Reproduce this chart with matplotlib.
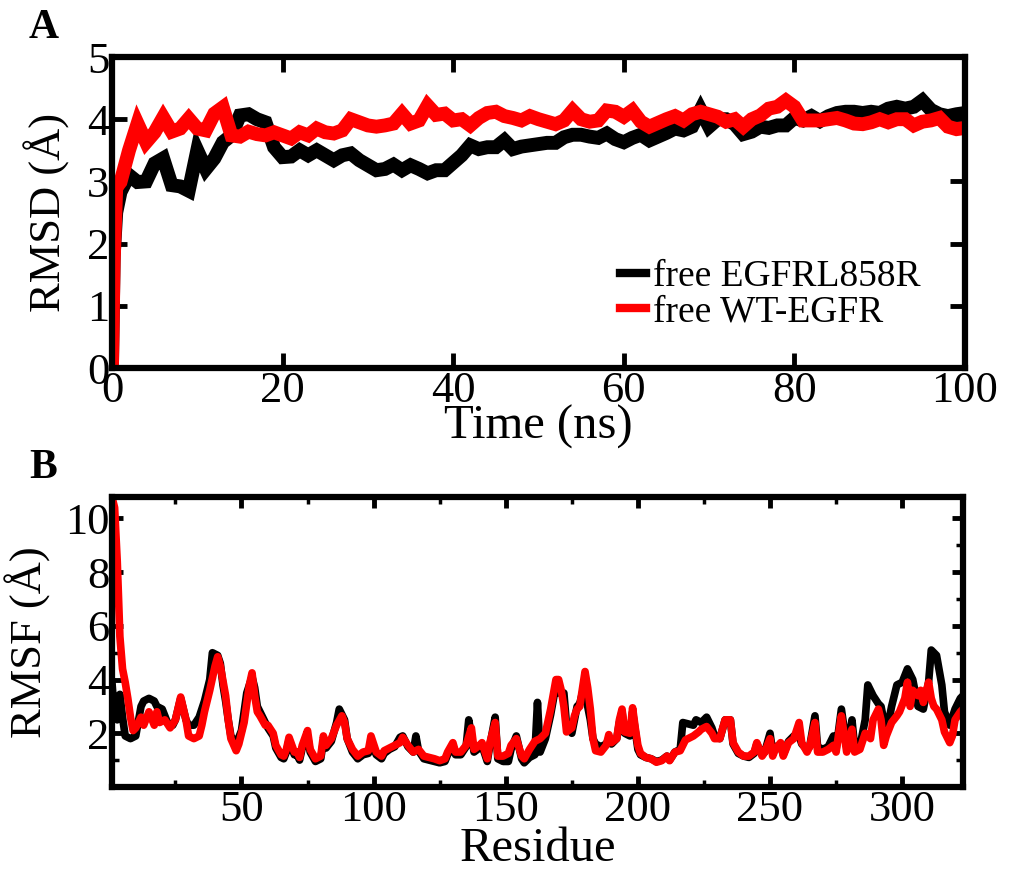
import matplotlib
matplotlib.use("Agg")
import matplotlib.pyplot as plt
from matplotlib.ticker import MultipleLocator

plt.rcParams["font.family"] = ["Liberation Serif", "DejaVu Serif"]

# ---------------- RMSD time series (ns, Angstrom) ----------------
time_ns = [0, 0.2, 0.5] + list(range(1, 101))

rmsd_l858r = [0.0, 1.8, 2.5,
    2.83, 3.10, 2.99, 3.00, 3.29, 3.37, 2.94, 2.92, 2.85, 3.50,
    3.20, 3.37, 3.63, 3.74, 4.06, 4.08, 4.00, 3.95, 3.55, 3.39,
    3.40, 3.50, 3.42, 3.50, 3.42, 3.34, 3.42, 3.45, 3.34, 3.26,
    3.18, 3.20, 3.27, 3.18, 3.26, 3.20, 3.13, 3.18, 3.18, 3.30,
    3.42, 3.58, 3.52, 3.55, 3.55, 3.66, 3.52, 3.56, 3.58, 3.60,
    3.62, 3.62, 3.71, 3.75, 3.75, 3.72, 3.70, 3.77, 3.68, 3.63,
    3.70, 3.75, 3.66, 3.72, 3.78, 3.85, 3.82, 3.88, 4.15, 3.88,
    4.00, 4.00, 3.92, 3.76, 3.80, 3.88, 3.86, 3.90, 3.90, 4.02,
    3.98, 4.05, 3.97, 4.05, 4.10, 4.12, 4.12, 4.10, 4.12, 4.10,
    4.17, 4.20, 4.17, 4.20, 4.30, 4.15, 4.08, 4.05, 4.08, 4.10]

rmsd_wt = [0.0, 1.7, 2.9,
    2.99, 3.50, 3.93, 3.63, 3.79, 4.03, 3.80, 3.85, 4.01, 3.85,
    3.82, 4.09, 4.19, 3.74, 3.72, 3.80, 3.76, 3.74, 3.79, 3.74,
    3.69, 3.79, 3.74, 3.85, 3.79, 3.77, 3.82, 4.00, 3.95, 3.90,
    3.88, 3.90, 3.93, 4.09, 3.93, 3.98, 4.22, 4.07, 4.09, 3.98,
    4.00, 3.90, 4.02, 4.10, 4.12, 4.05, 4.02, 3.98, 4.05, 4.00,
    3.96, 3.92, 3.98, 4.14, 4.00, 3.96, 3.98, 4.14, 4.12, 4.04,
    4.14, 3.96, 3.88, 3.94, 4.00, 4.05, 3.98, 4.08, 4.12, 4.08,
    4.04, 3.96, 4.00, 3.88, 4.00, 4.06, 4.17, 4.20, 4.30, 4.20,
    3.98, 3.98, 3.98, 4.00, 4.02, 3.98, 3.93, 3.92, 3.95, 4.00,
    3.95, 4.00, 4.00, 3.90, 3.96, 3.98, 4.02, 3.88, 3.84, 3.86]

# ---------------- per-residue RMSF (Angstrom) ----------------
res_l858r = [1, 2, 3, 4, 5, 6, 8, 10, 12, 13, 15, 17, 18, 20, 22, 24, 25, 27, 29, 30,
             32, 34, 36, 38, 39, 41, 42, 43, 44, 45, 46, 48, 50, 52, 54, 55, 56, 57, 59, 60,
             62, 63, 65, 66, 67, 68, 70, 71, 72, 73, 75, 76, 78, 80, 81, 82, 84, 86, 87, 89,
             90, 92, 94, 96, 98, 99, 101, 103, 104, 106, 108, 110, 111, 113, 115, 116, 117, 119, 121, 123,
             125, 127, 128, 130, 131, 133, 135, 136, 138, 140, 141, 143, 144, 146, 147, 149, 151, 152, 154, 156,
             157, 159, 161, 162, 163, 165, 167, 169, 170, 172, 173, 175, 177, 178, 179, 180, 181, 182, 183, 184,
             186, 188, 189, 190, 192, 193, 194, 195, 197, 198, 199, 200, 201, 203, 205, 207, 209, 211, 212, 214,
             216, 217, 219, 221, 222, 224, 226, 228, 229, 231, 233, 235, 236, 238, 240, 242, 244, 245, 247, 248,
             250, 251, 252, 254, 255, 257, 259, 261, 262, 264, 265, 267, 268, 270, 272, 274, 275, 277, 279, 280,
             281, 282, 284, 286, 287, 289, 291, 292, 294, 296, 298, 300, 302, 304, 306, 308, 310, 311, 313, 315,
             316, 318, 320, 322, 323]
rmsf_l858r = [3.9, 2.6, 2.5, 3.45, 2.6, 1.9, 1.8, 1.9, 3.0, 3.2, 3.3, 3.2, 3.0, 2.9, 2.4, 2.3, 2.5, 3.3, 2.5, 2.3,
              2.3, 2.6, 3.2, 4.0, 5.0, 4.9, 4.6, 3.8, 3.2, 2.5, 1.9, 1.6, 2.1, 3.5, 4.1, 3.7, 3.0, 2.8, 2.4, 2.2,
              1.9, 1.45, 1.1, 1.05, 1.3, 1.75, 1.2, 1.2, 1.0, 1.45, 1.9, 1.3, 0.95, 1.05, 1.7, 1.45, 1.7, 2.4, 2.9, 2.5,
              1.8, 1.3, 1.05, 1.2, 1.25, 1.7, 1.2, 1.05, 1.25, 1.4, 1.5, 1.85, 1.9, 1.5, 1.3, 1.9, 1.35, 1.05, 1.0, 0.95,
              0.9, 0.95, 1.2, 1.55, 1.2, 1.2, 1.5, 2.5, 1.3, 1.45, 1.55, 0.95, 1.55, 2.6, 1.05, 0.95, 0.95, 1.4, 1.9, 1.05,
              0.9, 1.1, 1.2, 3.15, 1.3, 1.8, 2.7, 3.8, 3.5, 3.5, 2.3, 2.0, 3.0, 3.1, 3.5, 3.6, 3.0, 2.5, 1.8, 1.6,
              1.5, 1.6, 1.8, 1.6, 1.8, 2.4, 2.8, 2.0, 1.9, 2.8, 2.1, 1.4, 1.2, 1.1, 1.05, 0.95, 1.0, 1.15, 1.0, 1.3,
              1.4, 2.4, 2.35, 2.3, 2.5, 2.4, 2.6, 2.2, 1.9, 1.8, 2.5, 2.5, 1.6, 1.25, 1.15, 1.1, 1.25, 1.6, 1.2, 1.3,
              2.0, 1.3, 1.5, 1.55, 1.2, 1.7, 1.9, 1.9, 1.6, 1.4, 1.5, 2.65, 1.5, 1.4, 1.5, 1.9, 1.4, 2.9, 1.5, 1.8,
              2.5, 1.5, 1.5, 2.5, 3.8, 3.4, 3.1, 3.0, 2.0, 3.0, 3.8, 3.9, 4.4, 4.0, 3.0, 2.9, 3.9, 5.1, 4.9, 3.8,
              2.8, 2.3, 2.9, 3.3, 3.4]

res_wt = [1, 2, 3, 4, 5, 6, 7, 8, 9, 10, 12, 13, 15, 17, 18, 19, 21, 23, 25, 27,
          29, 30, 32, 34, 35, 36, 38, 40, 41, 42, 44, 45, 46, 48, 49, 50, 51, 53, 54, 55,
          56, 57, 59, 60, 62, 63, 65, 66, 67, 68, 70, 71, 72, 73, 75, 76, 78, 80, 81, 82,
          84, 86, 88, 89, 90, 92, 94, 96, 98, 99, 101, 103, 104, 106, 108, 110, 111, 113, 115, 117,
          119, 121, 123, 125, 127, 128, 130, 131, 133, 135, 137, 138, 140, 141, 143, 144, 146, 147, 149, 151,
          152, 154, 156, 157, 159, 161, 163, 165, 167, 169, 170, 171, 172, 173, 175, 176, 177, 178, 180, 181,
          182, 183, 184, 186, 188, 189, 190, 192, 193, 194, 195, 197, 198, 199, 200, 201, 203, 205, 207, 209,
          211, 212, 214, 216, 218, 219, 221, 223, 224, 226, 228, 229, 231, 233, 235, 236, 238, 240, 242, 244,
          245, 247, 248, 250, 251, 252, 254, 255, 257, 259, 261, 262, 264, 265, 267, 268, 270, 272, 274, 275,
          276, 277, 279, 280, 281, 282, 284, 286, 288, 289, 291, 292, 293, 294, 296, 298, 299, 301, 302, 303,
          304, 306, 307, 308, 310, 311, 312, 313, 315, 316, 318, 319, 320, 322, 323]
rmsf_wt = [10.8, 10.4, 8.4, 5.6, 4.4, 3.9, 3.3, 2.6, 2.1, 2.2, 2.6, 2.3, 2.8, 2.3, 2.8, 2.4, 2.5, 2.2, 2.5, 3.35,
           2.5, 1.9, 1.8, 1.9, 2.3, 2.8, 3.6, 4.5, 4.85, 4.5, 3.4, 2.5, 1.8, 1.35, 1.6, 2.0, 2.4, 3.8, 4.25, 3.4,
           2.8, 2.65, 2.3, 2.3, 2.0, 1.55, 1.2, 1.15, 1.4, 1.85, 1.3, 1.3, 1.1, 1.55, 2.1, 1.4, 1.05, 1.15, 1.9, 1.55,
           1.8, 2.3, 2.65, 2.4, 1.8, 1.4, 1.15, 1.3, 1.35, 1.9, 1.3, 1.15, 1.35, 1.45, 1.55, 1.65, 1.85, 1.55, 1.3, 1.4,
           1.15, 1.1, 1.05, 0.98, 1.05, 1.3, 1.65, 1.3, 1.3, 1.55, 2.2, 1.4, 1.55, 1.65, 1.05, 1.65, 2.4, 1.15, 1.15, 1.25,
           1.55, 1.8, 1.15, 1.05, 1.4, 1.7, 1.8, 2.0, 2.9, 4.0, 4.0, 3.6, 3.0, 2.05, 2.2, 2.65, 2.9, 3.0, 4.3, 3.7,
           2.9, 1.8, 1.35, 1.3, 1.55, 1.95, 1.65, 1.8, 2.5, 2.9, 2.05, 2.0, 2.95, 2.2, 1.55, 1.25, 1.1, 1.05, 0.92, 0.98,
           1.15, 0.98, 1.3, 1.35, 1.75, 1.8, 1.9, 2.05, 2.15, 2.25, 2.0, 1.8, 1.8, 2.5, 2.5, 1.65, 1.3, 1.15, 1.15, 1.3,
           1.65, 1.15, 1.3, 1.8, 1.15, 1.4, 1.65, 1.15, 1.65, 1.8, 2.4, 1.65, 1.3, 1.5, 2.4, 1.3, 1.3, 1.4, 1.55, 1.3,
           2.0, 2.65, 1.3, 1.8, 2.15, 1.3, 1.4, 2.0, 1.8, 2.5, 2.9, 2.5, 1.55, 1.9, 2.4, 2.65, 2.8, 3.3, 3.9, 3.0,
           3.6, 3.4, 3.6, 3.15, 3.9, 3.3, 3.0, 2.9, 2.5, 2.05, 1.65, 1.9, 2.5, 2.8, 2.9]

series_labels = ["free EGFRL858R", "free WT-EGFR"]
series_colors = ["black", "#ff0000"]

TICK_FS = 32
XLABEL_FS = 35
YLABEL_FS = 32

fig = plt.figure(figsize=(10.16, 8.69), dpi=100)
ax1 = fig.add_axes([0.1102, 0.5765, 0.8396, 0.3579])
ax2 = fig.add_axes([0.1102, 0.0944, 0.8376, 0.3337])


def style_axes(ax, major_len, minor_len):
    for sp in ax.spines.values():
        sp.set_linewidth(4.5)
    ax.tick_params(which="both", direction="in", top=True, right=True,
                   labelsize=TICK_FS, width=3.5)
    ax.tick_params(which="major", length=major_len)
    ax.tick_params(which="minor", length=minor_len, width=2.5)
    ax.tick_params(axis="x", pad=2)
    ax.tick_params(axis="y", pad=2)


# Panel A: RMSD
ax1.plot(time_ns, rmsd_l858r, color=series_colors[0], lw=10, label=series_labels[0],
         solid_joinstyle="miter")
ax1.plot(time_ns, rmsd_wt, color=series_colors[1], lw=10, label=series_labels[1],
         solid_joinstyle="miter")
ax1.set_xlim(0, 100)
ax1.set_ylim(0, 5)
ax1.xaxis.set_major_locator(MultipleLocator(20))
ax1.yaxis.set_major_locator(MultipleLocator(1))
style_axes(ax1, 11, 6)
ax1.set_xlabel("Time (ns)", fontsize=XLABEL_FS, labelpad=-4)
ax1.set_ylabel("RMSD (Å)", fontsize=YLABEL_FS, labelpad=12)
leg = ax1.legend(loc="upper left", bbox_to_anchor=(0.574, 0.41), frameon=False,
                 fontsize=27, handlelength=0.68, handletextpad=0.2, borderpad=0,
                 labelspacing=0.02)
for h in leg.get_lines():
    h.set_linewidth(6)

# Panel B: RMSF
ax2.plot(res_l858r, rmsf_l858r, color=series_colors[0], lw=5.5)
ax2.plot(res_wt, rmsf_wt, color=series_colors[1], lw=5.5)
ax2.set_xlim(1, 323)
ax2.set_ylim(0, 10.8)
ax2.xaxis.set_minor_locator(MultipleLocator(25))
ax2.yaxis.set_minor_locator(MultipleLocator(1))
ax2.set_yticks([2, 4, 6, 8, 10])
ax2.set_xticks([50, 100, 150, 200, 250, 300])
style_axes(ax2, 8, 5)
ax2.set_xlabel("Residue", fontsize=XLABEL_FS, labelpad=-2)
ax2.set_ylabel("RMSF (Å)", fontsize=YLABEL_FS, labelpad=10)

fig.text(0.043, 0.968, "A", fontsize=30, fontweight="bold", ha="center", va="center")
fig.text(0.042, 0.461, "B", fontsize=30, fontweight="bold", ha="center", va="center")

fig.savefig("out.png", dpi=100)
